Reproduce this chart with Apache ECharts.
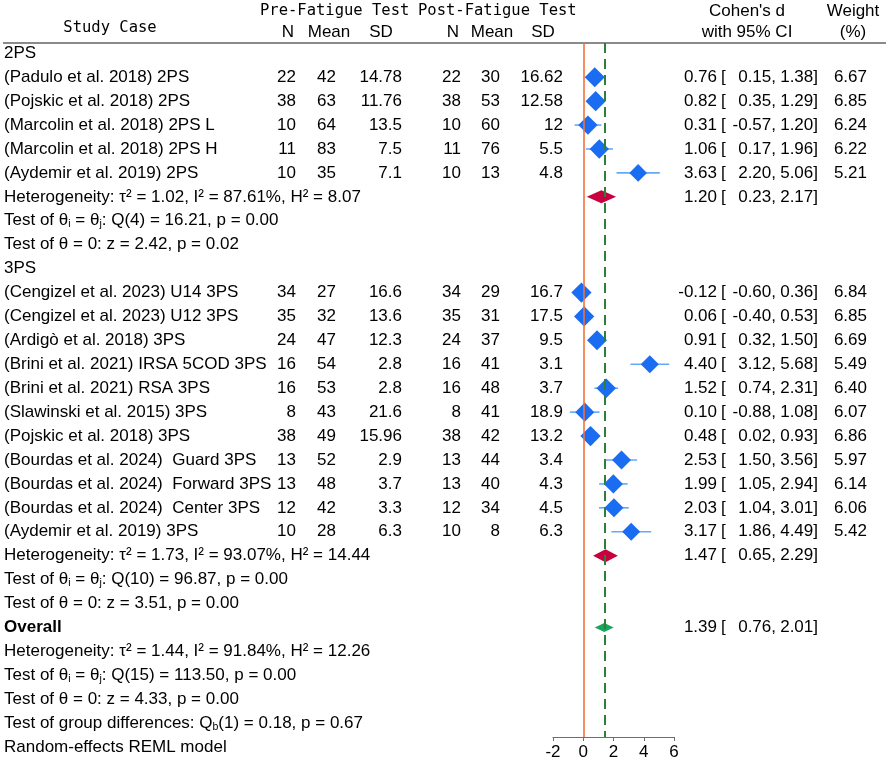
<!DOCTYPE html>
<html><head><meta charset="utf-8">
<script src="https://cdn.jsdelivr.net/npm/echarts@6/dist/echarts.min.js"></script>
<style>html,body{margin:0;padding:0;background:#fff}#c{width:886px;height:762px}</style>
</head><body><div id="c"></div>
<script>
// ---------------- DATA ----------------
const groups = ['2PS', '3PS'];
const studyGroup = ['2PS','2PS','2PS','2PS','2PS','3PS','3PS','3PS','3PS','3PS','3PS','3PS','3PS','3PS','3PS','3PS'];
const studyNames = [
  '(Padulo et al. 2018) 2PS',
  '(Pojskic et al. 2018) 2PS',
  '(Marcolin et al. 2018) 2PS L',
  '(Marcolin et al. 2018) 2PS H',
  '(Aydemir et al. 2019) 2PS',
  '(Cengizel et al. 2023) U14 3PS',
  '(Cengizel et al. 2023) U12 3PS',
  '(Ardigò et al. 2018) 3PS',
  '(Brini et al. 2021) IRSA 5COD 3PS',
  '(Brini et al. 2021) RSA 3PS',
  '(Slawinski et al. 2015) 3PS',
  '(Pojskic et al. 2018) 3PS',
  '(Bourdas et al. 2024)  Guard 3PS',
  '(Bourdas et al. 2024)  Forward 3PS',
  '(Bourdas et al. 2024)  Center 3PS',
  '(Aydemir et al. 2019) 3PS'
];
const preN     = [22, 38, 10, 11, 10, 34, 35, 24, 16, 16, 8, 38, 13, 13, 12, 10];
const preMean  = [42, 63, 64, 83, 35, 27, 32, 47, 54, 53, 43, 49, 52, 48, 42, 28];
const preSD    = [14.78, 11.76, 13.5, 7.5, 7.1, 16.6, 13.6, 12.3, 2.8, 2.8, 21.6, 15.96, 2.9, 3.7, 3.3, 6.3];
const postN    = [22, 38, 10, 11, 10, 34, 35, 24, 16, 16, 8, 38, 13, 13, 12, 10];
const postMean = [30, 53, 60, 76, 13, 29, 31, 37, 41, 48, 41, 42, 44, 40, 34, 8];
const postSD   = [16.62, 12.58, 12, 5.5, 4.8, 16.7, 17.5, 9.5, 3.1, 3.7, 18.9, 13.2, 3.4, 4.3, 4.5, 6.3];
const cohenD   = [0.76, 0.82, 0.31, 1.06, 3.63, -0.12, 0.06, 0.91, 4.40, 1.52, 0.10, 0.48, 2.53, 1.99, 2.03, 3.17];
const ciLow    = [0.15, 0.35, -0.57, 0.17, 2.20, -0.60, -0.40, 0.32, 3.12, 0.74, -0.88, 0.02, 1.50, 1.05, 1.04, 1.86];
const ciHigh   = [1.38, 1.29, 1.20, 1.96, 5.06, 0.36, 0.53, 1.50, 5.68, 2.31, 1.08, 0.93, 3.56, 2.94, 3.01, 4.49];
const weight   = [6.67, 6.85, 6.24, 6.22, 5.21, 6.84, 6.85, 6.69, 5.49, 6.40, 6.07, 6.86, 5.97, 6.14, 6.06, 5.42];

const groupD    = [1.20, 1.47];
const groupLow  = [0.23, 0.65];
const groupHigh = [2.17, 2.29];
const groupTau2 = [1.02, 1.73];
const groupI2   = [87.61, 93.07];
const groupH2   = [8.07, 14.44];
const groupQdf  = [4, 10];
const groupQ    = [16.21, 96.87];
const groupQp   = [0.00, 0.00];
const groupZ    = [2.42, 3.51];
const groupZp   = [0.02, 0.00];

const overallD = 1.39, overallLow = 0.76, overallHigh = 2.01;
const overallTau2 = 1.44, overallI2 = 91.84, overallH2 = 12.26;
const overallQdf = 15, overallQ = 113.50, overallQp = 0.00;
const overallZ = 4.33, overallZp = 0.00;
const diffQdf = 1, diffQ = 0.18, diffP = 0.67;

const xTicks = [-2, 0, 2, 4, 6];

// ---------------- LAYOUT ----------------
const W = 886, TOP = 43, AXIS_Y = 737;
const R_MIN = -0.43, R_MAX = 28.58;
const PLOT_L = 553, PLOT_R = 674;
const SANS = '"Liberation Sans", Arial, sans-serif';
const MONO = '"DejaVu Sans Mono", monospace';
const FS = 17;
const RICH = {
  sub: { fontSize: 10.5, fontFamily: SANS, verticalAlign: 'bottom', lineHeight: 18, fill: '#000', color: '#000' }
};
const f2 = v => v.toFixed(2);

// build rows
const leftItems = [];
const studyRow = [], groupRow = [];
let r = 0;
groups.forEach((g, gi) => {
  leftItems.push({ r: r++, text: g });
  studyGroup.forEach((sg, i) => {
    if (sg === g) { studyRow[i] = r; leftItems.push({ r: r++, text: studyNames[i] }); }
  });
  groupRow[gi] = r;
  leftItems.push({ r: r++, text: 'Heterogeneity: τ² = ' + f2(groupTau2[gi]) + ', I² = ' + f2(groupI2[gi]) + '%, H² = ' + f2(groupH2[gi]) });
  leftItems.push({ r: r++, text: 'Test of θ{sub|i} = θ{sub|j}: Q(' + groupQdf[gi] + ') = ' + f2(groupQ[gi]) + ', p = ' + f2(groupQp[gi]) });
  leftItems.push({ r: r++, text: 'Test of θ = 0: z = ' + f2(groupZ[gi]) + ', p = ' + f2(groupZp[gi]) });
});
const overallRow = r;
leftItems.push({ r: r++, text: 'Overall', bold: true });
leftItems.push({ r: r++, text: 'Heterogeneity: τ² = ' + f2(overallTau2) + ', I² = ' + f2(overallI2) + '%, H² = ' + f2(overallH2) });
leftItems.push({ r: r++, text: 'Test of θ{sub|i} = θ{sub|j}: Q(' + overallQdf + ') = ' + f2(overallQ) + ', p = ' + f2(overallQp) });
leftItems.push({ r: r++, text: 'Test of θ = 0: z = ' + f2(overallZ) + ', p = ' + f2(overallZp) });
leftItems.push({ r: r++, text: 'Test of group differences: Q{sub|b}(' + diffQdf + ') = ' + f2(diffQ) + ', p = ' + f2(diffP) });
leftItems.push({ r: r++, text: 'Random-effects REML model' });

const studyItems = (arr, fmt) => arr.map((v, i) => ({ r: studyRow[i], text: fmt ? fmt(v, i) : String(v) }));
const summaryRows = groupRow.concat([overallRow]);
const sumD = groupD.concat([overallD]), sumLow = groupLow.concat([overallLow]), sumHigh = groupHigh.concat([overallHigh]);

const estItems = studyItems(cohenD, v => f2(v)).concat(sumD.map((v, k) => ({ r: summaryRows[k], text: f2(v) })));
const brItems = estItems.map(it => ({ r: it.r, text: '[' }));
const loItems = studyItems(ciLow, v => f2(v) + ',').concat(sumLow.map((v, k) => ({ r: summaryRows[k], text: f2(v) + ',' })));
const hiItems = studyItems(ciHigh, v => f2(v) + ']').concat(sumHigh.map((v, k) => ({ r: summaryRows[k], text: f2(v) + ']' })));

function textSeries(items, x, align) {
  return {
    type: 'custom', xAxisIndex: 1, yAxisIndex: 1, silent: true, z: 5,
    data: items.map(it => [x, it.r]),
    renderItem: (params, api) => {
      const it = items[params.dataIndex];
      const p = api.coord([x, it.r]);
      return {
        type: 'text', x: p[0], y: p[1],
        style: {
          text: it.text, fill: '#000',
          font: (it.bold ? 'bold ' : '') + FS + 'px ' + SANS,
          align: align, verticalAlign: 'middle',
          textAlign: align, textVerticalAlign: 'middle',
          rich: RICH
        }
      };
    }
  };
}

function diamondSeries(ds, lows, highs, rows, color, halfH) {
  return {
    type: 'custom', xAxisIndex: 0, yAxisIndex: 0, silent: true, z: 4,
    data: ds.map((d, i) => [d, rows[i], lows[i], highs[i]]),
    renderItem: (params, api) => {
      const c = api.coord([api.value(0), api.value(1)]);
      const a = api.coord([api.value(2), api.value(1)]);
      const b = api.coord([api.value(3), api.value(1)]);
      return {
        type: 'polygon',
        shape: { points: [[a[0], c[1]], [c[0], c[1] - halfH], [b[0], c[1]], [c[0], c[1] + halfH]] },
        style: { fill: color }
      };
    }
  };
}

const hdr = (text, x, y, align, font) => ({
  type: 'text', x: x, y: y, silent: true,
  style: { text: text, fill: '#000', font: font, align: align, verticalAlign: 'middle', textAlign: align, textVerticalAlign: 'middle' }
});
const monoF = '15.5px ' + MONO;
const sansF = FS + 'px ' + SANS;

const option = {
  animation: false,
  backgroundColor: '#fff',
  grid: [
    { left: PLOT_L, width: PLOT_R - PLOT_L, top: TOP, height: AXIS_Y - TOP },
    { left: 0, width: W, top: TOP, height: AXIS_Y - TOP }
  ],
  xAxis: [
    {
      gridIndex: 0, type: 'value', min: xTicks[0], max: xTicks[xTicks.length - 1], interval: xTicks[1] - xTicks[0],
      axisLine: { show: true, onZero: false, lineStyle: { color: '#6e6e6e', width: 1.2 } },
      axisTick: { show: true, length: 4, lineStyle: { color: '#6e6e6e' } },
      axisLabel: { color: '#000', fontSize: FS, fontFamily: SANS, margin: 7 },
      splitLine: { show: false }
    },
    { gridIndex: 1, type: 'value', min: 0, max: W, show: false }
  ],
  yAxis: [
    { gridIndex: 0, type: 'value', inverse: true, min: R_MIN, max: R_MAX, show: false },
    { gridIndex: 1, type: 'value', inverse: true, min: R_MIN, max: R_MAX, show: false }
  ],
  graphic: [
    { type: 'line', silent: true, shape: { x1: 3, y1: TOP, x2: W, y2: TOP }, style: { stroke: '#8a8a8a', lineWidth: 2 } },
    hdr('Study Case', 110, 28, 'center', monoF),
    hdr('Pre-Fatigue Test', 260, 11, 'left', monoF),
    hdr('Post-Fatigue Test', 418, 11, 'left', monoF),
    hdr('N', 288, 32, 'center', sansF),
    hdr('Mean', 329, 32, 'center', sansF),
    hdr('SD', 381, 32, 'center', sansF),
    hdr('N', 453, 32, 'center', sansF),
    hdr('Mean', 492, 32, 'center', sansF),
    hdr('SD', 543, 32, 'center', sansF),
    hdr("Cohen's d", 747, 11, 'center', sansF),
    hdr('with 95% CI', 747, 32, 'center', sansF),
    hdr('Weight', 853, 11, 'center', sansF),
    hdr('(%)', 853, 32, 'center', sansF)
  ],
  series: [
    // reference lines
    {
      type: 'scatter', xAxisIndex: 0, yAxisIndex: 0, data: [], z: 1, silent: true,
      markLine: {
        silent: true, symbol: ['none', 'none'], label: { show: false }, animation: false,
        data: [
          { xAxis: 0, lineStyle: { color: '#f4703c', width: 1.6, type: 'solid' } },
          { xAxis: overallD, lineStyle: { color: '#2f7f3b', width: 2, type: [10, 6] } }
        ]
      }
    },
    // CI whiskers
    {
      type: 'custom', xAxisIndex: 0, yAxisIndex: 0, silent: true, z: 2,
      data: cohenD.map((d, i) => [ciLow[i], ciHigh[i], studyRow[i]]),
      renderItem: (params, api) => {
        const a = api.coord([api.value(0), api.value(2)]);
        const b = api.coord([api.value(1), api.value(2)]);
        return { type: 'line', shape: { x1: a[0], y1: a[1], x2: b[0], y2: b[1] }, style: { stroke: '#66a9f5', lineWidth: 1.6 } };
      }
    },
    // study markers
    {
      type: 'scatter', xAxisIndex: 0, yAxisIndex: 0, silent: true, z: 3,
      symbol: 'diamond',
      symbolSize: v => 7.74 * Math.sqrt(v[2]),
      itemStyle: { color: '#1a6cf0', opacity: 1 },
      data: cohenD.map((d, i) => [d, studyRow[i], weight[i]])
    },
    diamondSeries(groupD, groupLow, groupHigh, groupRow, '#c8003f', 6.5),
    diamondSeries([overallD], [overallLow], [overallHigh], [overallRow], '#19a55d', 4.5),
    // text columns
    textSeries(leftItems, 4, 'left'),
    textSeries(studyItems(preN), 296, 'right'),
    textSeries(studyItems(preMean), 336, 'right'),
    textSeries(studyItems(preSD), 402, 'right'),
    textSeries(studyItems(postN), 461, 'right'),
    textSeries(studyItems(postMean), 500, 'right'),
    textSeries(studyItems(postSD), 563, 'right'),
    textSeries(estItems, 717, 'right'),
    textSeries(brItems, 721, 'left'),
    textSeries(loItems, 776, 'right'),
    textSeries(hiItems, 818, 'right'),
    textSeries(studyItems(weight, v => f2(v)), 867, 'right')
  ]
};
const chart = echarts.init(document.getElementById('c'));
chart.setOption(option);
</script>
</body></html>
